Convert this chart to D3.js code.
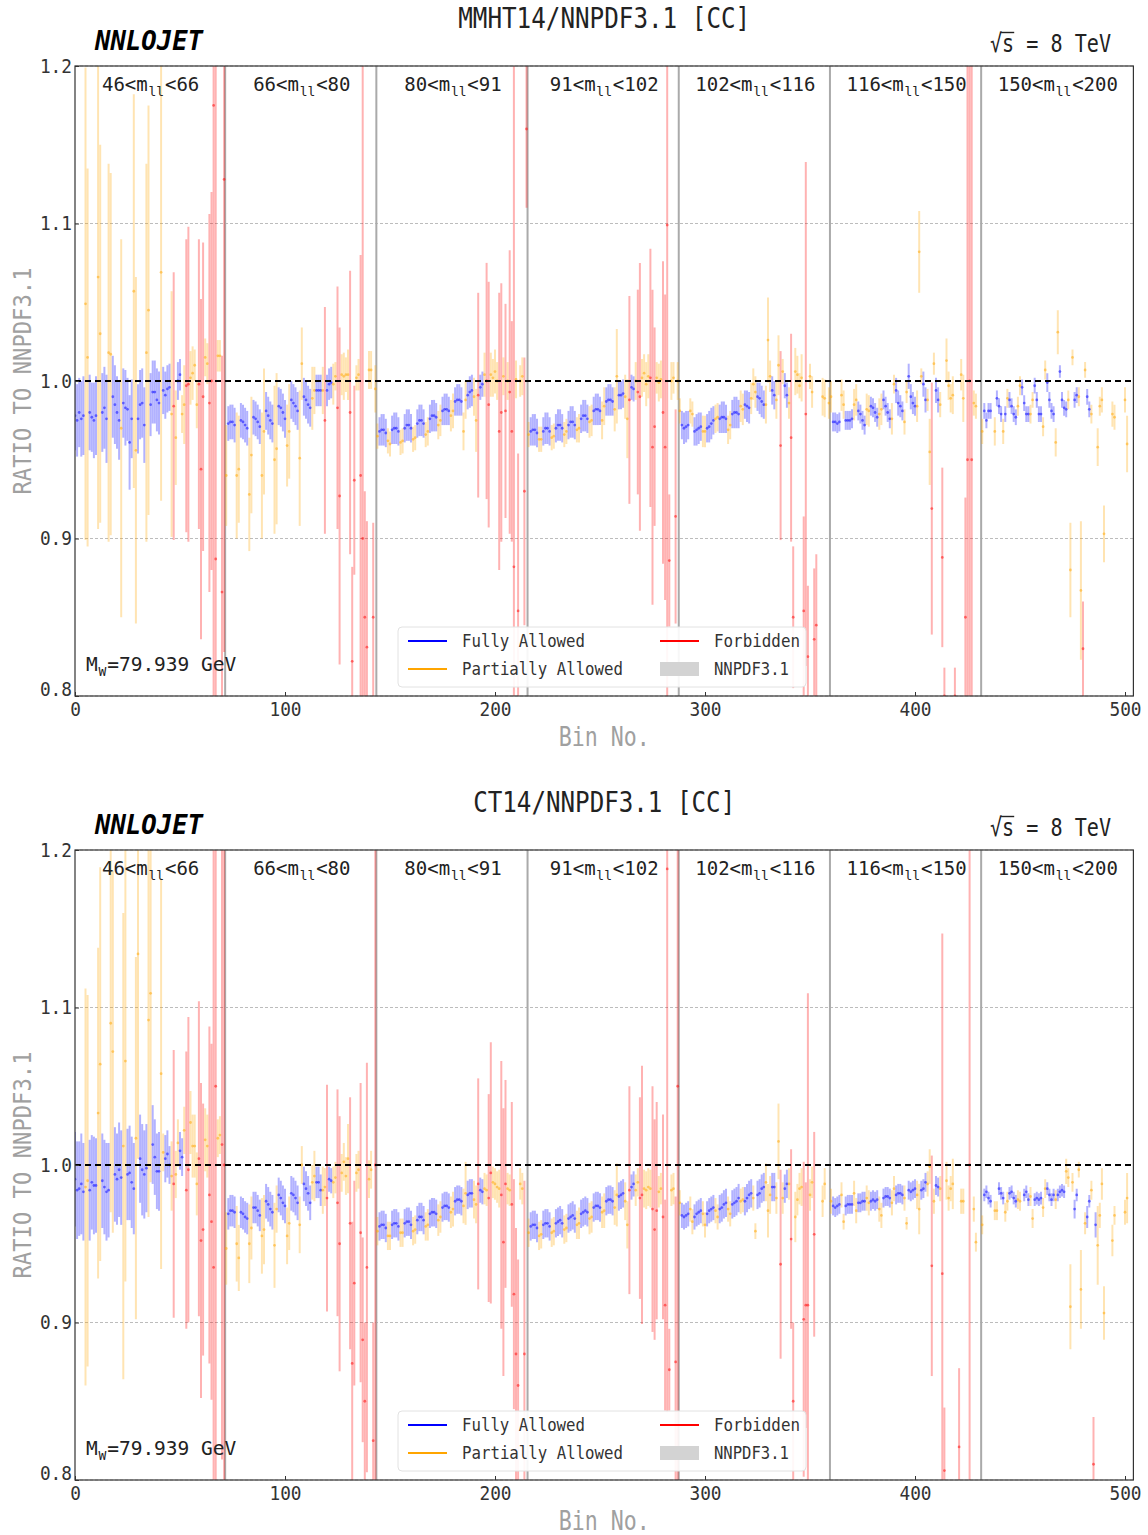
<!DOCTYPE html>
<html>
<head>
<meta charset="utf-8">
<script src="https://cdn.jsdelivr.net/npm/d3@7"></script>
<style>
  body { margin: 0; background: #fff; }
  svg { display: block; }
  text { font-family: "DejaVu Sans Mono", monospace; }
</style>
</head>
<body>
<svg id="chart" width="1148" height="1535"></svg>
<script>
// ---------------------------------------------------------------
// Ratio of charged-current predictions to NNPDF3.1, per bin.
// 7 dilepton-mass slices x 72 bins = 504 bins.
// Status codes: F = fully allowed, P = partially allowed,
//               X = forbidden, - = no entry.  (groups of six)
// ---------------------------------------------------------------
const massEdges = [46, 66, 80, 91, 102, 116, 150, 200];
const binsPerMass = 72;
const yTicks = [0.8, 0.9, 1.0, 1.1, 1.2];
const xTicks = [0, 100, 200, 300, 400, 500];
const panelTitles = ["MMHT14/NNPDF3.1 [CC]", "CT14/NNPDF3.1 [CC]"];
const legendLabels = ["Fully Allowed", "Partially Allowed", "Forbidden", "NNPDF3.1"];
const wMass = "79.939";
const sqrtS = 8;

const mmhtStatus = [
  "FFFFFP PFFFFP PFFFPP FFFFPF FFFFPP FFFFPP FFFFFP FFFFPX PFFPPX XPPPPX XXPPXX XXPPXX",
  "PFFFFP PFFFFP PFFFFP PFFFFP PFFFFP PFFFFP PFFFFP PFFFPX FFFPPX XPPPPX XXPPXX XXPPXP",
  "PFFFFP PFFFFP PFFFFP PFFFFP PFFFFP PFFFFP PFFFFP PFFFPP XFFPXX PPPPXX PXPXXX PXPPXX",
  "PFFFFP PFFFFP PFFFFP PFFFFP PFFFFP PFFFFP PFFFFP PFFFPP XFFPXX PPPPXX XPPPXX XXPPXP",
  "PFFFFP PFFFFP PFFFFP PFFFFP PFFFFP PFFFPP PFFFFP PPFFPP XPFFPX XPPPPX XXPPXX --PP-P",
  "PFFFFP PFFFFP PFFFFP PFFFFP PFFFFP PFFFFP PFFFFP PPFFPP XPFFPX XPPPPX --PPXX XXPP--",
  "PFFFF- PFFFPF PFFFFP PFFFFP PFFFFP PFFFFP PFFFFP PPFFPP XPFFP- -PPPP- --PP-- --PP--"
];

const mmhtRatio = [
  // 46 < m_ll < 66
  0.978,0.975,0.980,0.976,0.978,1.049,
  1.015,0.980,0.977,0.975,0.978,1.066,
  1.030,0.980,0.983,0.976,1.018,1.017,
  0.990,0.985,0.980,0.975,0.970,0.986,
  0.983,0.982,0.961,0.976,1.057,0.956,
  0.976,0.985,0.986,0.972,1.018,1.045,
  0.985,0.993,0.993,0.988,0.986,1.069,
  0.994,0.991,0.995,0.996,0.979,0.984,
  0.964,1.000,1.004,0.979,0.985,0.997,
  0.998,1.002,1.005,1.010,0.985,0.998,
  0.944,0.990,1.015,1.011,0.986,1.000,
  1.175,0.887,1.016,1.016,0.866,1.128,
  // 66 < m_ll < 80
  0.940,0.973,0.974,0.974,0.972,0.940,
  0.944,0.975,0.974,0.972,0.970,0.928,
  0.953,0.977,0.976,0.974,0.971,0.940,
  0.968,0.981,0.978,0.975,0.973,0.950,
  0.957,0.984,0.983,0.980,0.976,0.959,
  0.968,0.988,0.986,0.984,0.981,0.951,
  1.011,0.990,0.988,0.985,0.983,0.989,
  0.994,0.994,0.994,0.994,0.994,0.975,
  0.994,0.998,0.999,0.998,1.003,0.983,
  0.927,1.004,1.003,1.004,1.004,0.980,
  0.822,0.937,1.002,1.004,0.940,0.900,
  0.850,0.831,1.007,1.007,0.850,0.995,
  // 80 < m_ll < 91
  0.965,0.968,0.969,0.969,0.967,0.962,
  0.960,0.969,0.970,0.970,0.968,0.961,
  0.962,0.970,0.972,0.972,0.970,0.963,
  0.964,0.973,0.975,0.975,0.973,0.966,
  0.968,0.976,0.978,0.978,0.977,0.972,
  0.975,0.981,0.982,0.982,0.981,0.978,
  0.981,0.987,0.988,0.988,0.987,0.968,
  0.988,0.991,0.993,0.994,0.990,0.975,
  0.991,0.996,0.998,1.004,1.000,0.985,
  1.004,1.002,1.006,1.000,0.968,0.980,
  1.003,0.981,1.000,0.993,0.968,0.882,
  1.001,0.854,1.000,1.003,0.930,1.160,
  // 91 < m_ll < 102
  0.966,0.968,0.969,0.969,0.967,0.963,
  0.963,0.968,0.970,0.970,0.968,0.964,
  0.965,0.970,0.972,0.972,0.970,0.966,
  0.968,0.972,0.974,0.974,0.972,0.969,
  0.970,0.976,0.978,0.978,0.976,0.974,
  0.975,0.981,0.982,0.982,0.981,0.975,
  0.984,0.987,0.988,0.988,0.987,0.982,
  1.003,0.991,0.991,0.992,0.990,0.976,
  0.988,0.996,0.995,1.000,0.993,0.990,
  1.002,1.005,0.998,1.003,1.002,0.958,
  0.971,1.002,0.999,1.001,0.980,0.958,
  1.099,0.886,1.000,1.002,0.914,1.000,
  // 102 < m_ll < 116
  0.981,0.972,0.970,0.971,0.972,0.981,
  0.979,0.968,0.969,0.970,0.971,0.968,
  0.968,0.970,0.971,0.973,0.975,0.976,
  0.977,0.976,0.977,0.977,0.976,0.969,
  0.972,0.979,0.980,0.980,0.979,0.984,
  0.982,0.985,0.984,0.983,0.989,0.998,
  0.993,0.990,0.989,0.987,0.985,0.985,
  1.026,1.003,0.994,0.991,0.988,1.010,
  0.959,1.006,0.997,0.991,0.986,0.964,
  0.850,1.006,1.004,0.997,1.002,0.854,
  0.979,0.825,1.003,0.993,0.836,0.845,
  null,null,0.990,0.989,null,0.986,
  // 116 < m_ll < 150
  0.990,0.974,0.974,0.973,0.974,0.991,
  0.985,0.975,0.975,0.975,0.976,0.985,
  0.988,0.981,0.979,0.975,0.972,0.982,
  0.981,0.984,0.983,0.980,0.977,0.979,
  0.982,0.988,0.984,0.980,0.976,0.976,
  0.998,0.994,0.986,0.984,0.981,0.974,
  0.993,1.003,0.990,0.986,0.984,0.984,
  1.082,1.003,0.998,0.988,0.988,0.955,
  0.919,1.011,0.994,0.988,0.985,0.888,
  0.800,1.013,0.997,0.989,0.991,0.800,
  null,null,1.004,0.989,0.850,0.950,
  1.000,0.950,0.986,0.984,null,null,
  // 150 < m_ll < 200
  0.968,0.981,0.975,0.981,0.981,null,
  0.968,0.989,0.984,0.979,0.968,0.979,
  0.989,0.988,0.984,0.979,0.977,0.984,
  0.997,0.996,0.986,0.979,0.979,0.979,
  0.988,0.997,0.988,0.979,0.979,0.971,
  1.007,0.999,0.988,0.981,0.979,0.961,
  1.031,1.006,0.988,0.983,0.982,0.988,
  0.880,1.015,0.988,0.991,0.990,0.867,
  0.830,1.007,0.990,0.982,0.979,null,
  null,0.958,0.984,0.988,0.903,null,
  null,null,0.979,0.977,null,null,
  null,null,0.988,0.960,null,null
];

const mmhtError = [
  // 46 < m_ll < 66
  .022,.023,.022,.024,.025,.150,
  .120,.024,.022,.024,.025,.160,
  .120,.025,.026,.028,.120,.115,
  .026,.025,.023,.025,.120,.022,
  .024,.020,.030,.025,.125,.110,
  .022,.022,.022,.024,.120,.130,
  .020,.020,.020,.020,.020,.145,
  .015,.015,.015,.015,.078,.085,
  .030,.012,.010,.012,.025,.093,
  .100,.017,.017,.010,.015,.092,
  .108,.098,.012,.013,.120,.120,
  .400,.350,.010,.010,.150,.300,
  // 66 < m_ll < 80
  .032,.011,.011,.011,.011,.040,
  .034,.011,.011,.011,.011,.036,
  .037,.011,.011,.011,.011,.040,
  .040,.012,.012,.012,.012,.047,
  .048,.012,.012,.012,.012,.026,
  .030,.012,.012,.012,.012,.043,
  .023,.012,.012,.012,.012,.020,
  .015,.010,.010,.010,.015,.072,
  .010,.010,.010,.013,.009,.077,
  .107,.013,.015,.011,.016,.090,
  .060,.060,.008,.010,.140,.300,
  .080,.080,.012,.012,.060,.015,
  // 80 < m_ll < 91
  .008,.009,.010,.010,.009,.008,
  .008,.009,.010,.010,.009,.008,
  .008,.009,.010,.010,.009,.008,
  .008,.009,.010,.010,.009,.008,
  .009,.009,.010,.010,.009,.009,
  .010,.009,.010,.010,.009,.010,
  .011,.009,.010,.010,.009,.012,
  .012,.009,.010,.010,.012,.020,
  .065,.008,.008,.014,.075,.078,
  .014,.012,.014,.012,.088,.082,
  .012,.068,.012,.090,.070,.330,
  .012,.100,.010,.012,.085,.050,
  // 91 < m_ll < 102
  .008,.009,.010,.010,.009,.008,
  .008,.009,.010,.010,.009,.008,
  .008,.009,.010,.010,.009,.008,
  .008,.009,.010,.010,.009,.008,
  .009,.009,.010,.010,.009,.010,
  .010,.009,.010,.010,.009,.012,
  .012,.009,.010,.010,.009,.014,
  .030,.009,.009,.009,.014,.025,
  .066,.008,.008,.012,.065,.085,
  .012,.012,.014,.014,.082,.100,
  .063,.010,.012,.012,.096,.097,
  .300,.042,.012,.010,.068,.012,
  // 102 < m_ll < 116
  .008,.009,.010,.010,.009,.008,
  .008,.009,.010,.010,.009,.010,
  .010,.009,.010,.010,.009,.009,
  .009,.009,.010,.010,.009,.009,
  .009,.009,.010,.010,.009,.010,
  .010,.009,.010,.010,.010,.010,
  .010,.009,.010,.010,.009,.012,
  .027,.010,.009,.009,.012,.019,
  .060,.008,.008,.008,.010,.066,
  .045,.015,.012,.008,.015,.060,
  .160,.045,.008,.010,.045,.045,
  null,null,.012,.012,null,.010,
  // 116 < m_ll < 150
  .010,.006,.006,.006,.006,.010,
  .009,.006,.006,.006,.006,.010,
  .010,.006,.006,.006,.006,.010,
  .010,.006,.006,.006,.006,.010,
  .010,.006,.006,.006,.006,.010,
  .006,.008,.008,.007,.006,.008,
  .007,.008,.008,.007,.006,.010,
  .026,.005,.008,.008,.007,.021,
  .080,.007,.008,.008,.008,.057,
  .018,.014,.009,.009,.012,.018,
  null,null,.010,.015,.076,.300,
  .300,.300,.008,.008,null,null,
  // 150 < m_ll < 200
  .008,.005,.005,.005,.005,null,
  .009,.005,.005,.005,.008,.005,
  .006,.005,.005,.005,.005,.006,
  .006,.005,.005,.005,.005,.006,
  .005,.005,.005,.005,.005,.006,
  .006,.006,.005,.005,.005,.009,
  .014,.004,.005,.005,.005,.006,
  .030,.005,.005,.005,.006,.044,
  .030,.005,.005,.005,.006,null,
  null,.012,.006,.008,.018,null,
  null,null,.008,.008,null,null,
  null,null,.008,.018,null,null
];

const ct14Status = [
  "FFFFFP PFFFFP PFFFFP PFFFFP PFFFFP PFFFFP PFFFFP PFFFPX PPFFPX XPPPPX XXPPXX XXPPXX",
  "PFFFFP PFFFFP PFFFFP PFFFFP PFFFFP PFFFFP PFFFFP PFFFPP XFFPPX XPPPPX XXPPXX XXPPXX",
  "PFFFFP PFFFFP PFFFFP PFFFFP PFFFFP PFFFFP PFFFFP PFFFPP XFFPPX XPPPPX XXPPXX XXPPX-",
  "PFFFFP PFFFFP PFFFFP PFFFFP PFFFFP PFFFFP PFFFFP PFFFPP XFFPPX XPPPPX XXPPXX XXPPXX",
  "PFFFFP PFFFFP PFFFFP PFFFFP PFFFFP PFFFFP PFFFFP PPFFPP XPFFPX XPPPPX XXPPX- --PP--",
  "PFFFFP PFFFFP PFFFFP PFFFFP PFFFFP PFFFFP PFFFFP PFFFPP XPFFPX XPPPP- -XPP-- X-PP--",
  "PFFFF- PPFFFP PFFFFP P-FFFP PFFFFP PFFFFP FFFFPP PPFFPP -PFFPX FPPPP- --PP-- --PP--"
];

const ct14Ratio = [
  // 46 < m_ll < 66
  0.991,0.984,0.985,0.988,0.983,0.986,
  0.990,0.984,0.989,0.987,0.987,1.033,
  1.064,0.990,0.986,0.983,0.984,1.090,
  1.072,0.994,0.991,0.997,0.992,1.012,
  1.066,0.994,0.995,0.989,0.985,1.017,
  1.134,1.004,0.997,0.994,0.998,1.092,
  1.109,1.013,1.005,0.996,0.996,1.058,
  1.008,1.004,1.007,1.000,0.993,0.988,
  0.994,1.014,1.009,1.005,1.022,0.984,
  0.997,1.027,1.012,1.012,0.988,1.004,
  0.952,0.959,1.016,1.012,0.981,0.964,
  0.935,1.050,1.017,1.019,1.013,1.000,
  // 66 < m_ll < 80
  0.947,0.969,0.971,0.971,0.970,0.950,
  0.941,0.970,0.969,0.967,0.966,0.950,
  0.960,0.973,0.973,0.971,0.968,0.955,
  0.959,0.977,0.975,0.972,0.970,0.949,
  0.972,0.981,0.979,0.976,0.974,0.955,
  0.963,0.982,0.981,0.979,0.976,0.962,
  1.000,0.988,0.985,0.982,0.976,0.989,
  0.993,0.989,0.989,0.984,0.984,0.986,
  0.979,0.991,0.990,0.989,0.992,0.976,
  0.950,0.995,1.002,0.993,1.004,0.963,
  0.874,0.925,0.995,0.997,0.957,0.889,
  0.850,0.935,0.991,0.997,0.825,1.000,
  // 80 < m_ll < 91
  0.958,0.961,0.962,0.962,0.960,0.955,
  0.955,0.962,0.963,0.963,0.961,0.957,
  0.957,0.963,0.964,0.964,0.962,0.958,
  0.959,0.965,0.967,0.967,0.965,0.961,
  0.962,0.969,0.970,0.970,0.969,0.965,
  0.967,0.973,0.974,0.974,0.973,0.970,
  0.972,0.977,0.978,0.978,0.977,0.974,
  0.982,0.981,0.982,0.982,0.978,0.975,
  0.988,0.984,0.983,0.985,0.984,0.979,
  0.995,0.989,0.988,0.986,0.985,0.981,
  0.951,0.988,0.985,0.984,0.975,0.918,
  0.880,0.860,0.988,0.985,0.880,null,
  // 91 < m_ll < 102
  0.957,0.961,0.962,0.962,0.960,0.955,
  0.956,0.962,0.963,0.963,0.961,0.957,
  0.958,0.963,0.964,0.965,0.963,0.959,
  0.960,0.966,0.967,0.968,0.966,0.962,
  0.963,0.969,0.970,0.971,0.970,0.966,
  0.967,0.973,0.974,0.974,0.973,0.970,
  0.971,0.977,0.978,0.978,0.977,0.973,
  0.981,0.980,0.981,0.982,0.977,0.962,
  0.984,0.986,0.988,0.984,0.989,0.979,
  0.981,0.985,0.984,0.986,0.985,0.972,
  0.959,0.971,0.983,0.985,0.967,0.911,
  1.188,0.870,0.984,0.985,0.875,1.050,
  // 102 < m_ll < 116
  0.976,0.968,0.967,0.968,0.969,0.972,
  0.964,0.967,0.969,0.970,0.971,0.969,
  0.962,0.969,0.971,0.972,0.973,0.971,
  0.967,0.972,0.973,0.975,0.976,0.972,
  0.969,0.975,0.976,0.977,0.979,0.977,
  0.978,0.977,0.979,0.981,0.982,0.979,
  0.958,0.981,0.982,0.985,0.986,0.989,
  0.971,0.981,0.986,0.986,0.979,1.015,
  0.937,0.979,0.985,0.988,0.988,0.953,
  0.850,0.967,0.978,0.985,0.986,0.902,
  0.911,0.911,0.981,0.989,0.956,null,
  null,null,0.977,0.988,null,null,
  // 116 < m_ll < 150
  0.977,0.974,0.973,0.974,0.975,0.981,
  0.964,0.974,0.975,0.975,0.975,0.982,
  0.971,0.976,0.976,0.977,0.977,0.979,
  0.976,0.977,0.978,0.977,0.978,0.972,
  0.968,0.979,0.980,0.980,0.979,0.976,
  0.985,0.981,0.982,0.982,0.981,0.979,
  0.963,0.984,0.983,0.984,0.985,0.981,
  0.972,0.984,0.985,0.989,0.988,0.999,
  0.936,0.977,0.987,0.986,0.985,0.931,
  0.806,0.990,0.979,0.985,0.988,null,
  null,0.821,0.977,0.977,null,null,
  1.000,null,0.972,0.951,null,null,
  // 150 < m_ll < 200
  0.962,0.981,0.983,0.979,0.977,null,
  0.971,0.971,0.985,0.982,0.979,0.970,
  0.977,0.982,0.983,0.979,0.977,0.978,
  0.977,null,0.981,0.983,0.978,0.980,
  0.966,0.978,0.979,0.978,0.979,0.973,
  0.985,0.985,0.981,0.978,0.981,0.978,
  0.981,0.983,0.984,0.983,0.996,0.992,
  0.910,0.989,0.972,0.981,0.997,0.921,
  null,0.963,0.967,0.977,0.984,0.810,
  0.962,0.949,0.968,0.988,0.906,null,
  null,null,0.952,0.968,null,null,
  null,null,0.970,0.979,null,null
];

const ct14Error = [
  // 46 < m_ll < 66
  .030,.031,.030,.032,.031,.126,
  .118,.032,.030,.031,.030,.105,
  .125,.030,.030,.031,.030,.120,
  .115,.030,.029,.030,.030,.148,
  .140,.029,.030,.029,.029,.115,
  .130,.028,.029,.028,.028,.125,
  .120,.025,.024,.024,.025,.124,
  .012,.015,.015,.012,.022,.085,
  .015,.015,.012,.012,.015,.088,
  .097,.020,.020,.020,.020,.100,
  .100,.080,.020,.020,.107,.113,
  .300,.300,.012,.012,.200,.300,
  // 66 < m_ll < 80
  .023,.010,.010,.010,.010,.024,
  .021,.010,.010,.010,.010,.025,
  .020,.010,.010,.010,.010,.024,
  .022,.011,.011,.011,.011,.027,
  .015,.011,.011,.011,.011,.018,
  .017,.011,.011,.011,.011,.018,
  .012,.011,.011,.011,.011,.011,
  .016,.010,.010,.010,.015,.012,
  .072,.008,.008,.010,.010,.072,
  .081,.012,.012,.012,.022,.080,
  .090,.065,.012,.012,.095,.065,
  .050,.130,.012,.012,.075,.300,
  // 80 < m_ll < 91
  .009,.009,.009,.009,.009,.009,
  .009,.009,.009,.009,.009,.009,
  .009,.009,.009,.009,.009,.009,
  .009,.009,.009,.009,.009,.009,
  .010,.009,.009,.009,.009,.010,
  .010,.009,.009,.009,.009,.010,
  .011,.009,.009,.009,.009,.011,
  .020,.009,.009,.009,.012,.012,
  .067,.008,.008,.010,.010,.066,
  .083,.010,.010,.010,.012,.085,
  .085,.066,.010,.010,.065,.073,
  .080,.080,.010,.010,.110,null,
  // 91 < m_ll < 102
  .009,.009,.009,.009,.009,.009,
  .009,.009,.009,.009,.009,.009,
  .009,.009,.009,.009,.009,.009,
  .009,.009,.009,.009,.009,.009,
  .010,.009,.009,.009,.009,.010,
  .010,.009,.009,.009,.009,.010,
  .011,.009,.009,.009,.009,.011,
  .020,.009,.009,.009,.012,.015,
  .066,.008,.008,.010,.009,.064,
  .082,.012,.012,.012,.012,.078,
  .070,.069,.010,.010,.065,.067,
  .345,.026,.010,.010,.105,.300,
  // 102 < m_ll < 116
  .008,.008,.008,.008,.008,.008,
  .008,.008,.008,.008,.008,.008,
  .008,.008,.008,.008,.008,.008,
  .008,.009,.009,.009,.009,.008,
  .008,.009,.009,.009,.009,.008,
  .008,.009,.009,.009,.009,.008,
  .005,.009,.009,.009,.009,.012,
  .017,.012,.009,.009,.010,.024,
  .060,.010,.009,.009,.010,.057,
  .050,.016,.010,.010,.012,.100,
  .078,.198,.010,.010,.065,null,
  null,null,.010,.010,null,null,
  // 116 < m_ll < 150
  .008,.006,.006,.006,.006,.008,
  .005,.006,.006,.006,.006,.008,
  .008,.006,.006,.006,.006,.008,
  .008,.006,.006,.006,.006,.008,
  .008,.006,.006,.006,.006,.008,
  .008,.006,.006,.006,.006,.008,
  .004,.006,.006,.006,.006,.009,
  .016,.006,.006,.006,.008,.011,
  .070,.008,.006,.006,.008,.216,
  .040,.012,.008,.008,.016,null,
  null,.050,.008,.008,null,null,
  .300,null,.008,.006,null,null,
  // 150 < m_ll < 200
  .006,.004,.004,.004,.004,null,
  .006,.006,.004,.004,.004,.006,
  .006,.004,.004,.004,.004,.006,
  .006,null,.004,.004,.004,.006,
  .006,.004,.004,.004,.004,.006,
  .006,.004,.004,.004,.004,.006,
  .004,.004,.004,.004,.008,.006,
  .027,.006,.006,.004,.005,.025,
  null,.007,.007,.004,.006,.030,
  .008,.025,.008,.010,.017,null,
  null,null,.010,.006,null,null,
  null,null,.008,.016,null,null
];

// ---------------------------------------------------------------
const kindColour = { F: "#0000ff", P: "#ffa500", X: "#ff0000" };
const nBins = binsPerMass * (massEdges.length - 1);
const monoAdvance = 0.602;   // glyph advance of the monospace face, in em

function buildPoints(ratio, error, status) {
  const codes = status.join("").replace(/ /g, "");
  if (ratio.length !== nBins || error.length !== nBins || codes.length !== nBins) {
    throw new Error("bin count mismatch: " + ratio.length + " " + error.length + " " + codes.length);
  }
  const pts = [];
  for (let i = 0; i < nBins; i++) {
    if (codes[i] === "-" || ratio[i] == null) continue;
    pts.push({ bin: i, ratio: ratio[i], err: error[i], kind: codes[i] });
  }
  return pts;
}

const panels = [
  { title: panelTitles[0], titleLen: 292, top: 66, pts: buildPoints(mmhtRatio, mmhtError, mmhtStatus) },
  { title: panelTitles[1], titleLen: 262, top: 850, pts: buildPoints(ct14Ratio, ct14Error, ct14Status) }
];

const svg = d3.select("#chart");
const plotL = 75, plotR = 1133.4, plotH = 630;
const x = d3.scaleLinear().domain([0, nBins]).range([plotL, plotR]);
const y = d3.scaleLinear().domain([0.8, 1.2]).range([plotH, 0]);

// text helper: condensed monospace look
function label(g, str, opts) {
  const t = g.append("text")
    .attr("x", opts.x).attr("y", opts.y)
    .attr("font-size", opts.size)
    .attr("fill", opts.fill || "#222")
    .attr("text-anchor", opts.anchor || "start");
  if (opts.len) t.attr("textLength", opts.len).attr("lengthAdjust", "spacingAndGlyphs");
  if (opts.weight) t.attr("font-weight", opts.weight);
  if (opts.style) t.attr("font-style", opts.style);
  if (opts.transform) t.attr("transform", opts.transform);
  t.text(str);
  return t;
}

// run of text pieces, some subscripted, laid out left to right as separate texts
function subscriptRun(g, parts, opts) {
  const gap = 0.8;
  const widths = parts.map(p => p.t.length * (p.sub ? opts.subSize : opts.size) * monoAdvance);
  const total = d3.sum(widths) + gap * (parts.length - 1);
  let cx = opts.anchor === "middle" ? opts.x - total / 2 : opts.x;
  parts.forEach((p, i) => {
    label(g, p.t, {
      x: cx, y: opts.y + (p.sub ? opts.subDy : 0),
      size: p.sub ? opts.subSize : opts.size, fill: opts.fill
    });
    cx += widths[i] + gap;
  });
}

panels.forEach((p, idx) => {
  const g = svg.append("g").attr("transform", `translate(0,${p.top})`);
  const clipId = "plotclip" + idx;
  g.append("clipPath").attr("id", clipId)
    .append("rect").attr("x", plotL).attr("y", 0).attr("width", plotR - plotL).attr("height", plotH);

  // horizontal dashed grid
  g.selectAll("line.grid").data(yTicks.filter(v => v !== 1.0)).join("line")
    .attr("class", "grid")
    .attr("x1", plotL).attr("x2", plotR)
    .attr("y1", d => y(d)).attr("y2", d => y(d))
    .attr("stroke", "#b4b4b4").attr("stroke-width", 0.9)
    .attr("stroke-dasharray", "3,2");

  // mass-slice separators
  const seps = d3.range(1, massEdges.length - 1).map(k => k * binsPerMass - 0.5);
  g.selectAll("line.sep").data(seps).join("line")
    .attr("class", "sep")
    .attr("x1", d => x(d)).attr("x2", d => x(d))
    .attr("y1", 0).attr("y2", plotH)
    .attr("stroke", "#aaaaaa").attr("stroke-width", 2);

  // error bars and central values
  const dg = g.append("g").attr("clip-path", `url(#${clipId})`);
  dg.selectAll("line.err").data(p.pts).join("line")
    .attr("class", "err")
    .attr("x1", d => x(d.bin)).attr("x2", d => x(d.bin))
    .attr("y1", d => y(d.ratio - d.err)).attr("y2", d => y(d.ratio + d.err))
    .attr("stroke", d => kindColour[d.kind])
    .attr("stroke-opacity", 0.3)
    .attr("stroke-width", 2);
  dg.selectAll("circle.cv").data(p.pts).join("circle")
    .attr("class", "cv")
    .attr("cx", d => x(d.bin)).attr("cy", d => y(d.ratio))
    .attr("r", 1.4)
    .attr("fill", d => kindColour[d.kind])
    .attr("fill-opacity", 0.5);

  // reference line at unity
  g.append("line")
    .attr("x1", plotL).attr("x2", plotR)
    .attr("y1", y(1)).attr("y2", y(1))
    .attr("stroke", "#000").attr("stroke-width", 2)
    .attr("stroke-dasharray", "6,4");

  // frame
  g.append("rect")
    .attr("x", plotL).attr("y", 0).attr("width", plotR - plotL).attr("height", plotH)
    .attr("fill", "none").attr("stroke", "#333").attr("stroke-width", 1.2);

  // axes
  const yAxis = g.append("g").attr("transform", `translate(${plotL},0)`)
    .call(d3.axisLeft(y).tickValues(yTicks).tickFormat(d3.format(".1f")).tickSize(-4).tickPadding(3));
  const xAxis = g.append("g").attr("transform", `translate(0,${plotH})`)
    .call(d3.axisBottom(x).tickValues(xTicks).tickFormat(d3.format("d")).tickSize(-4).tickPadding(7));
  [yAxis, xAxis].forEach(a => {
    a.select(".domain").remove();
    a.selectAll(".tick line").attr("stroke", "#333");
    a.selectAll("text")
      .attr("font-family", "DejaVu Sans Mono, monospace")
      .attr("font-size", 19)
      .attr("fill", "#333")
      .attr("textLength", function () { return this.textContent.length * 10.7; })
      .attr("lengthAdjust", "spacingAndGlyphs");
  });
  // lift the lowest y label clear of the x-axis origin label
  yAxis.selectAll(".tick text").filter(d => d === yTicks[0]).attr("dy", "-0.05em");

  // axis titles
  label(g, "RATIO TO NNPDF3.1", {
    x: 0, y: 0, size: 25, fill: "#a0a0a0", anchor: "middle", len: 227,
    transform: `translate(31,${plotH / 2}) rotate(-90)`
  });
  label(g, "Bin No.", { x: (plotL + plotR) / 2, y: 680, size: 27, fill: "#a0a0a0", anchor: "middle", len: 91 });

  // header texts
  label(g, p.title, { x: (plotL + plotR) / 2, y: -38, size: 28, anchor: "middle", len: p.titleLen });
  label(g, "NNLOJET", { x: 95, y: -16, size: 27, fill: "#000", weight: "bold", style: "italic", len: 108 });
  const es = label(g, `√s = ${sqrtS} TeV`, { x: 1111, y: -14, size: 25, anchor: "end", len: 121 });
  // overline across the radicand
  const n = es.node();
  const ext0 = n.getExtentOfChar(0), ext1 = n.getExtentOfChar(1);
  g.append("line")
    .attr("x1", ext0.x + ext0.width - 1).attr("x2", ext1.x + ext1.width)
    .attr("y1", ext0.y + 3.5).attr("y2", ext0.y + 3.5)
    .attr("stroke", "#222").attr("stroke-width", 1.4);

  // mass-slice labels
  for (let k = 0; k < massEdges.length - 1; k++) {
    const lo = massEdges[k], hi = massEdges[k + 1];
    subscriptRun(g, [{ t: `${lo}<m` }, { t: "ll", sub: true }, { t: `<${hi}` }], {
      x: x(k * binsPerMass + binsPerMass / 2), y: 25, anchor: "middle",
      size: 19, subSize: 13, subDy: 5, fill: "#222"
    });
  }

  // W mass note
  subscriptRun(g, [{ t: "M" }, { t: "W", sub: true }, { t: `=${wMass} GeV` }], {
    x: 86, y: 605, size: 19.5, subSize: 13, subDy: 5, fill: "#222"
  });

  // legend
  const lg = g.append("g");
  lg.append("rect").attr("x", 398).attr("y", 561).attr("width", 408).attr("height", 60)
    .attr("rx", 4).attr("fill", "#fff").attr("fill-opacity", 0.9)
    .attr("stroke", "#e2e2e2").attr("stroke-width", 1);
  const entries = [
    { kind: "line", colour: kindColour.F, lx: 408, ly: 575, len: 123 },
    { kind: "line", colour: kindColour.P, lx: 408, ly: 603, len: 161 },
    { kind: "line", colour: kindColour.X, lx: 660, ly: 575, len: 86 },
    { kind: "patch", colour: "#d3d3d3", lx: 660, ly: 603, len: 75 }
  ];
  entries.forEach((e, i) => {
    if (e.kind === "line") {
      lg.append("line").attr("x1", e.lx).attr("x2", e.lx + 39)
        .attr("y1", e.ly).attr("y2", e.ly)
        .attr("stroke", e.colour).attr("stroke-width", 2);
    } else {
      lg.append("rect").attr("x", e.lx).attr("y", e.ly - 7).attr("width", 39).attr("height", 14)
        .attr("fill", e.colour);
    }
    label(lg, legendLabels[i], { x: e.lx + 54, y: e.ly + 6, size: 18, fill: "#333", len: e.len });
  });
});
</script>
</body>
</html>
